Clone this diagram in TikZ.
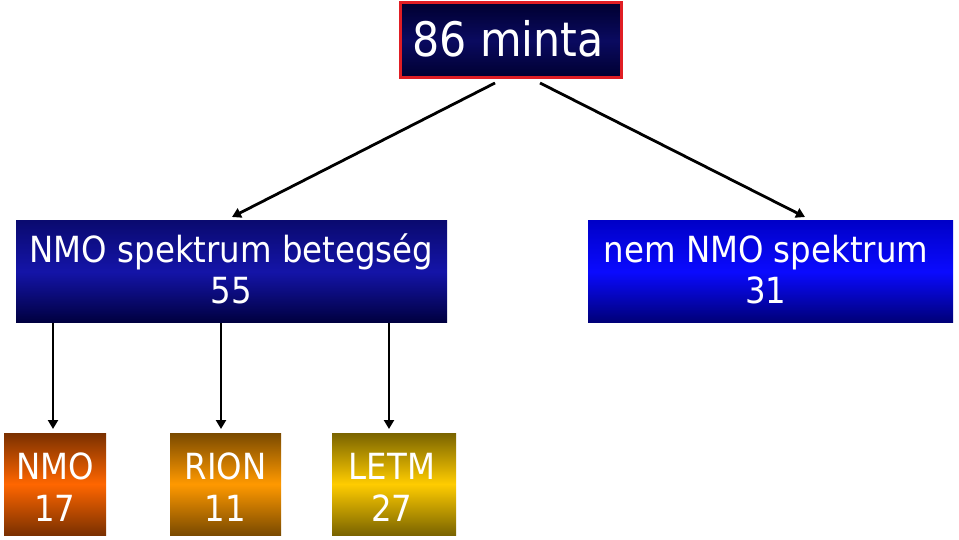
\documentclass[tikz,border=0pt]{standalone}
\usepackage{fontspec}
\setmainfont{DejaVu Sans Condensed}
\usetikzlibrary{arrows.meta}
\definecolor{navyA}{HTML}{0A0A70}
\definecolor{navyB}{HTML}{1414A8}
\definecolor{navyC}{HTML}{000040}
\definecolor{blueA}{HTML}{0000C8}
\definecolor{blueB}{HTML}{0A0AFF}
\definecolor{blueC}{HTML}{000078}
\definecolor{topA}{HTML}{000030}
\definecolor{topB}{HTML}{0A0A60}
\definecolor{orA}{HTML}{7A3000}
\definecolor{orB}{HTML}{FF6600}
\definecolor{rnA}{HTML}{7A4A00}
\definecolor{rnB}{HTML}{FF9900}
\definecolor{ltA}{HTML}{7A6400}
\definecolor{ltB}{HTML}{FFCC00}
\definecolor{frameRed}{HTML}{E01E24}
\tikzset{
  box/.style={inner sep=0pt, outer sep=0pt},
  lbl/.style={text=white, align=center, inner sep=0pt, font=\fontsize{36}{42}\selectfont},
  conn/.style={line width=2.8pt, -{Triangle[length=9pt,width=10pt]}},
}
\begin{document}
\begin{tikzpicture}[x=1pt,y=-1pt]
\useasboundingbox (0,0) rectangle (959,540);
% top box
\shade[top color=topA, bottom color=topA, middle color=topB] (400,3) rectangle (621,78);
\draw[frameRed, line width=3pt] (400,3) rectangle (621,78);
\node[box] (top) at (510.5,40.5) {};
\node[lbl, font=\fontsize{47.5}{54}\selectfont, anchor=base] (toplbl) at (508,57) {86 minta};
% left box
\shade[top color=navyA, bottom color=navyC, middle color=navyB] (16,221) rectangle (447,322);
\node[box] (nmo) at (231.5,271.5) {};
\node[lbl, anchor=base] at (231.5,304) {NMO spektrum betegség\\55};
% right box
\shade[top color=blueA, bottom color=blueC, middle color=blueB] (588,221) rectangle (953,322);
\node[box] (non) at (770.5,271.5) {};
\node[lbl, anchor=base] at (766,304) {nem NMO spektrum\\31};
% bottom boxes
\shade[top color=orA, bottom color=orA, middle color=orB] (4,433) rectangle (106,535);
\node[box] (b1) at (55,484) {};
\node[lbl, anchor=base] at (55,521) {NMO\\17};
\shade[top color=rnA, bottom color=rnA, middle color=rnB] (170,433) rectangle (281,535);
\node[box] (b2) at (225.5,484) {};
\node[lbl, anchor=base] at (225.5,521) {RION\\11};
\shade[top color=ltA, bottom color=ltA, middle color=ltB] (332,433) rectangle (456,535);
\node[box] (b3) at (394,484) {};
\node[lbl, anchor=base] at (392,521) {LETM\\27};
% connectors
\coordinate (s1) at (495,83);
\coordinate (e1) at (232,217);
\coordinate (s2) at (540,83);
\coordinate (e2) at (805,217);
\coordinate (v1s) at (53,323); \coordinate (v1e) at (53,429);
\coordinate (v2s) at (221,323); \coordinate (v2e) at (221,429);
\coordinate (v3s) at (389,323); \coordinate (v3e) at (389,429);
\draw[conn] (s1) -- (e1);
\draw[conn] (s2) -- (e2);
\draw[conn] (v1s) -- (v1e);
\draw[conn] (v2s) -- (v2e);
\draw[conn] (v3s) -- (v3e);
\end{tikzpicture}
\end{document}
